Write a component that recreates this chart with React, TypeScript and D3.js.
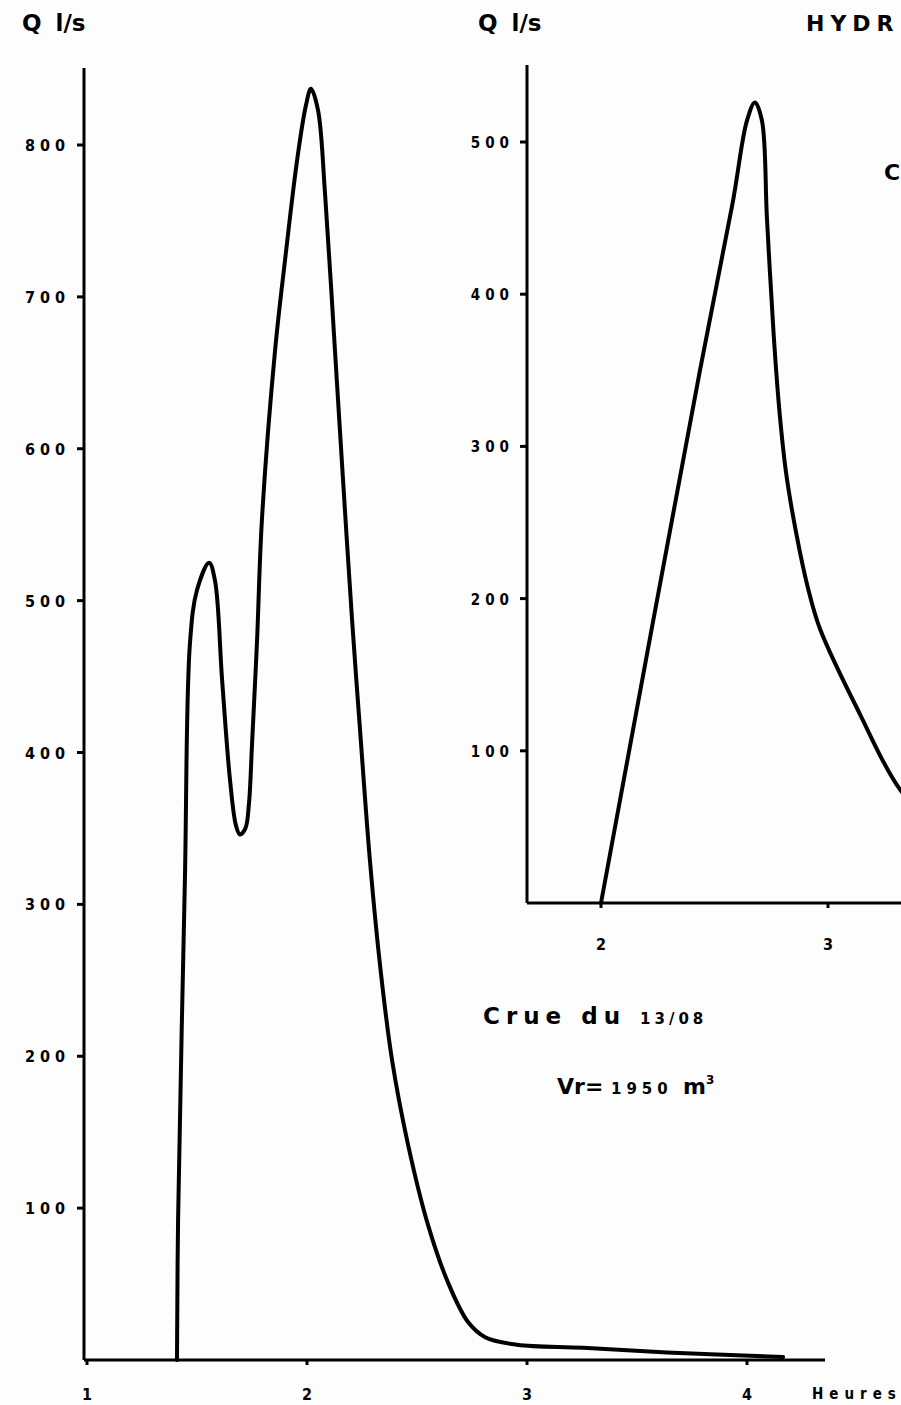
import * as d3 from "d3";
import { useEffect, useRef } from "react";

// main hydrograph (Crue du 13/08): time in hours, discharge in l/s
const mainHours = [
  1.409, 1.414, 1.445, 1.468, 1.5, 1.555, 1.582, 1.614, 1.65, 1.677, 1.695,
  1.72, 1.736, 1.75, 1.773, 1.795, 1.855, 1.9, 1.955, 1.995, 2.018, 2.05,
  2.082, 2.127, 2.164, 2.205, 2.241, 2.286, 2.332, 2.386, 2.459, 2.55, 2.641,
  2.732, 2.81, 2.955, 3.255, 3.636, 4.164,
];
const mainFlow = [
  0, 92, 316, 472, 507, 525, 513, 448, 382, 352, 346, 350, 366, 405, 474, 553,
  665, 724, 790, 826, 837, 823, 768, 665, 579, 487, 415, 329, 260, 198, 142, 89,
  51, 25, 15, 10, 8, 5, 2,
];

// second hydrograph (cut off on the right)
const insetHours = [
  2.0, 2.436, 2.58, 2.643, 2.678, 2.709, 2.731, 2.76, 2.785, 2.815, 2.86,
  2.91, 2.965, 3.141, 3.32, 3.54,
];
const insetFlow = [
  0, 350, 460, 514, 526, 514, 450, 375, 325, 283, 243, 208, 180, 124, 74, 41,
];

const mainYTicks = [100, 200, 300, 400, 500, 600, 700, 800];
const mainXTicks = [1, 2, 3, 4];
const insetYTicks = [100, 200, 300, 400, 500];
const insetXTicks = [2, 3];

const W = 901;
const H = 1405;
const FONT = "'DejaVu Sans', sans-serif";
const TICKFONT = "'DejaVu Sans Condensed', 'DejaVu Sans', sans-serif";

const App = () => {
  const ref = useRef<SVGSVGElement>(null);

  useEffect(() => {
    if (!ref.current) return;
    const svg = d3.select(ref.current);
    svg.selectAll("*").remove();

    svg.append("rect").attr("width", W).attr("height", H).attr("fill", "#fdfdfd");

    // ---- main chart ----
    const x = d3.scaleLinear().domain([1, 4]).range([87, 747]);
    const y = d3.scaleLinear().domain([0, 800]).range([1360, 145]);
    const axisX = 84;

    const main = svg.append("g");
    main
      .append("line")
      .attr("x1", axisX)
      .attr("x2", axisX)
      .attr("y1", 68)
      .attr("y2", y(0))
      .attr("stroke", "#000")
      .attr("stroke-width", 3);
    main
      .append("line")
      .attr("x1", axisX)
      .attr("x2", 825)
      .attr("y1", y(0))
      .attr("y2", y(0))
      .attr("stroke", "#000")
      .attr("stroke-width", 3);

    const yt = main.selectAll(".yt").data(mainYTicks).enter().append("g");
    yt.append("line")
      .attr("x1", axisX - 7)
      .attr("x2", axisX)
      .attr("y1", (d) => y(d))
      .attr("y2", (d) => y(d))
      .attr("stroke", "#000")
      .attr("stroke-width", 3);
    yt.append("text")
      .attr("x", 70)
      .attr("y", (d) => y(d) + 6)
      .attr("text-anchor", "end")
      .attr("font-family", TICKFONT)
      .attr("font-weight", "bold")
      .attr("font-size", 16)
      .attr("letter-spacing", 5)
      .text((d) => String(d));

    const xt = main.selectAll(".xt").data(mainXTicks).enter().append("g");
    xt.append("line")
      .attr("x1", (d) => x(d))
      .attr("x2", (d) => x(d))
      .attr("y1", y(0))
      .attr("y2", y(0) + 5)
      .attr("stroke", "#000")
      .attr("stroke-width", 3);
    xt.append("text")
      .attr("x", (d) => x(d))
      .attr("y", 1400)
      .attr("text-anchor", "middle")
      .attr("font-family", TICKFONT)
      .attr("font-weight", "bold")
      .attr("font-size", 16)
      .text((d) => String(d));

    main
      .append("text")
      .attr("x", 812)
      .attr("y", 1399)
      .attr("font-family", TICKFONT)
      .attr("font-weight", "bold")
      .attr("font-size", 15)
      .attr("letter-spacing", 6)
      .text("Heures");

    main
      .append("text")
      .attr("x", 22)
      .attr("y", 31)
      .attr("font-family", FONT)
      .attr("font-weight", "bold")
      .attr("font-size", 23)
      .attr("word-spacing", 6)
      .text("Q l/s");

    const line = d3
      .line<number>()
      .x((d, i) => x(mainHours[i]))
      .y((d) => y(d))
      .curve(d3.curveCatmullRom.alpha(0.5));
    main
      .append("path")
      .attr("d", line(mainFlow))
      .attr("fill", "none")
      .attr("stroke", "#000")
      .attr("stroke-width", 4)
      .attr("stroke-linejoin", "round")
      .attr("stroke-linecap", "round");

    // ---- inset chart ----
    const ix = d3.scaleLinear().domain([2, 3]).range([601, 828]);
    const iy = d3.scaleLinear().domain([0, 500]).range([903, 142]);
    const iAxisX = 527;

    const inset = svg.append("g");
    inset
      .append("line")
      .attr("x1", iAxisX)
      .attr("x2", iAxisX)
      .attr("y1", 65)
      .attr("y2", iy(0))
      .attr("stroke", "#000")
      .attr("stroke-width", 3);
    inset
      .append("line")
      .attr("x1", iAxisX)
      .attr("x2", W)
      .attr("y1", iy(0))
      .attr("y2", iy(0))
      .attr("stroke", "#000")
      .attr("stroke-width", 3);

    const iyt = inset.selectAll(".iyt").data(insetYTicks).enter().append("g");
    iyt.append("line")
      .attr("x1", iAxisX - 7)
      .attr("x2", iAxisX)
      .attr("y1", (d) => iy(d))
      .attr("y2", (d) => iy(d))
      .attr("stroke", "#000")
      .attr("stroke-width", 3);
    iyt.append("text")
      .attr("x", 514)
      .attr("y", (d) => iy(d) + 6)
      .attr("text-anchor", "end")
      .attr("font-family", TICKFONT)
      .attr("font-weight", "bold")
      .attr("font-size", 15)
      .attr("letter-spacing", 5)
      .text((d) => String(d));

    const ixt = inset.selectAll(".ixt").data(insetXTicks).enter().append("g");
    ixt.append("line")
      .attr("x1", (d) => ix(d))
      .attr("x2", (d) => ix(d))
      .attr("y1", iy(0))
      .attr("y2", iy(0) + 5)
      .attr("stroke", "#000")
      .attr("stroke-width", 3);
    ixt.append("text")
      .attr("x", (d) => ix(d))
      .attr("y", 950)
      .attr("text-anchor", "middle")
      .attr("font-family", TICKFONT)
      .attr("font-weight", "bold")
      .attr("font-size", 16)
      .text((d) => String(d));

    inset
      .append("text")
      .attr("x", 478)
      .attr("y", 31)
      .attr("font-family", FONT)
      .attr("font-weight", "bold")
      .attr("font-size", 23)
      .attr("word-spacing", 6)
      .text("Q l/s");

    const iline = d3
      .line<number>()
      .x((d, i) => ix(insetHours[i]))
      .y((d) => iy(d))
      .curve(d3.curveCatmullRom.alpha(0.5));
    inset
      .append("path")
      .attr("d", iline(insetFlow))
      .attr("fill", "none")
      .attr("stroke", "#000")
      .attr("stroke-width", 4)
      .attr("stroke-linejoin", "round")
      .attr("stroke-linecap", "round");

    // ---- titles & notes ----
    svg
      .append("text")
      .attr("x", 806)
      .attr("y", 31)
      .attr("font-family", FONT)
      .attr("font-weight", "bold")
      .attr("font-size", 22)
      .attr("letter-spacing", 6)
      .text("HYDR");
    svg
      .append("text")
      .attr("x", 884)
      .attr("y", 180)
      .attr("font-family", FONT)
      .attr("font-weight", "bold")
      .attr("font-size", 22)
      .text("C");

    const crue = svg
      .append("text")
      .attr("x", 483)
      .attr("y", 1024)
      .attr("font-family", FONT)
      .attr("font-weight", "bold");
    crue.append("tspan").attr("font-size", 23).attr("letter-spacing", 6).text("Crue du ");
    crue.append("tspan").attr("font-size", 15).attr("letter-spacing", 4).text("13/08");

    const vr = svg
      .append("text")
      .attr("x", 557)
      .attr("y", 1094)
      .attr("font-family", FONT)
      .attr("font-weight", "bold");
    vr.append("tspan").attr("font-size", 22).text("Vr= ");
    vr.append("tspan").attr("font-size", 15).attr("letter-spacing", 5).text("1950 ");
    vr.append("tspan").attr("font-size", 22).text("m");
    vr.append("tspan").attr("font-size", 12).attr("dy", -10).text("3");
  }, []);

  return (
    <svg
      ref={ref}
      width={W}
      height={H}
      style={{ display: "block", position: "absolute", left: 0, top: 0 }}
    />
  );
};

export default App;
